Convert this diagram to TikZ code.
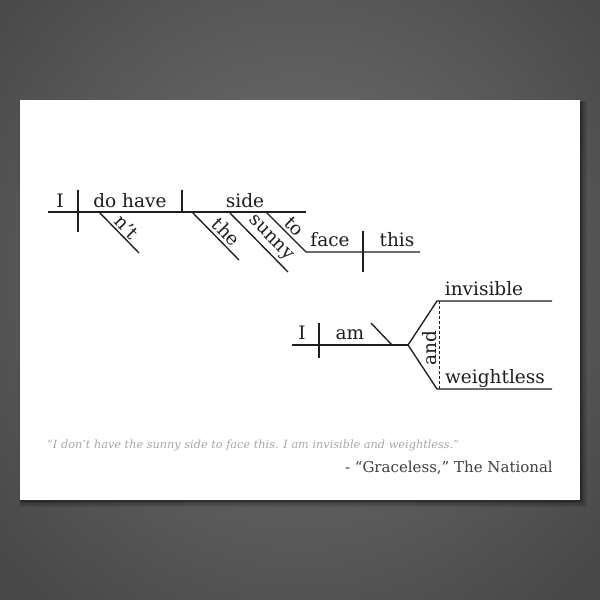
\documentclass[tikz,border=0pt]{standalone}
\usepackage{fontspec}
\setmainfont{DejaVu Serif}
\definecolor{bgin}{RGB}{116,116,116}
\definecolor{bgout}{RGB}{72,72,72}
\definecolor{ink}{RGB}{30,30,30}
\definecolor{quotegray}{RGB}{168,168,168}
\definecolor{attrgray}{RGB}{64,64,64}
\begin{document}
\begin{tikzpicture}[x=1pt,y=-1pt,
  diag/.style={line width=1.35pt, draw=ink},
  word/.style={font=\fontsize{18.5}{20}\selectfont, text=ink, inner sep=0pt, anchor=base},
  slantword/.style={font=\fontsize{18.5}{20}\selectfont, text=ink, sloped, anchor=south, text depth=0pt}]
\useasboundingbox (0,0) rectangle (600,600);
% background
\shade[inner color=bgin, outer color=bgout] (-100,-150) rectangle (700,700);
% card shadow
\fill[black,opacity=0.10] (19,101) rectangle (587,507);
\fill[black,opacity=0.12] (20,101) rectangle (585,505);
\fill[black,opacity=0.15] (21,102) rectangle (583,503);
\fill[black,opacity=0.18] (21,102) rectangle (582,502);
% card
\fill[white] (20,100) rectangle (580,500);

% ---- first clause ----
\coordinate (m0) at (48,212);
\coordinate (m1) at (306,212);
\coordinate (svT) at (78,190);
\coordinate (svB) at (78,232);
\coordinate (voT) at (182,190);
\coordinate (vo) at (182,212);
\coordinate (nt0) at (99,212);
\coordinate (nt1) at (139,253);
\coordinate (th0) at (192,212);
\coordinate (th1) at (239,260);
\coordinate (su0) at (229,212);
\coordinate (su1) at (288,272);
\coordinate (to0) at (266,212);
\coordinate (to1) at (306,252);
\coordinate (f1) at (420,252);
\coordinate (fdT) at (363,231);
\coordinate (fdB) at (363,272);

\draw[diag] (m0) -- (m1);
\draw[diag] (svT) -- (svB);
\draw[diag] (voT) -- (vo);
\draw[diag] (nt0) -- node[slantword, pos=0.53, inner sep=2pt] (wnt) {n’t} (nt1);
\draw[diag] (th0) -- node[slantword, pos=0.57, inner sep=3pt] (wthe) {the} (th1);
\draw[diag] (su0) -- node[slantword, pos=0.57, inner sep=7pt] (wsunny) {sunny} (su1);
\draw[diag] (to0) -- node[slantword, pos=0.53, inner sep=3pt] (wto) {to} (to1) -- (f1);
\draw[diag] (fdT) -- (fdB);

\node[word] (wI) at (60,207.5) {I};
\node[word] (wdo) at (130,207.5) {do have};
\node[word] (wside) at (245,207.5) {side};
\node[word] (wface) at (330,246) {face};
\node[word] (wthis) at (397,246) {this};

% ---- second clause ----
\coordinate (l0) at (292,345);
\coordinate (ldT) at (319,323);
\coordinate (ldB) at (319,358);
\coordinate (oc0) at (371,323);
\coordinate (oc1) at (392,345);
\coordinate (fk) at (408,345);
\coordinate (up) at (437,301);
\coordinate (dn) at (437,389);
\coordinate (up1) at (552,301);
\coordinate (dn1) at (552,389);
\coordinate (da0) at (439.5,301);
\coordinate (da1) at (439.5,389);

\draw[diag] (l0) -- (fk);
\draw[diag] (ldT) -- (ldB);
\draw[diag] (oc0) -- (oc1);
\draw[diag, line join=miter] (up1) -- (up) -- (fk) -- (dn) -- (dn1);
\draw[draw=ink, line width=1pt, dash pattern=on 3pt off 2pt] (da0) -- (da1);

\node[word] (wI2) at (302,339.5) {I};
\node[word] (wam) at (350,339.5) {am};
\node[word] (winv) at (484,295.5) {invisible};
\node[word] (wwgt) at (495,383) {weightless};
\node[word, rotate=90, anchor=center] (wand) at (430,348) {and};

% ---- quote ----
\node[anchor=base west, inner sep=0pt, text=quotegray, font=\fontsize{11.3}{13}\selectfont\itshape] (quote) at (47,448)
  {“I don’t have the sunny side to face this. I am invisible and weightless.”};
\node[anchor=base east, inner sep=0pt, text=attrgray, font=\fontsize{15}{18}\selectfont] (attr) at (553,472)
  {- “Graceless,” The National};
\end{tikzpicture}
\end{document}
